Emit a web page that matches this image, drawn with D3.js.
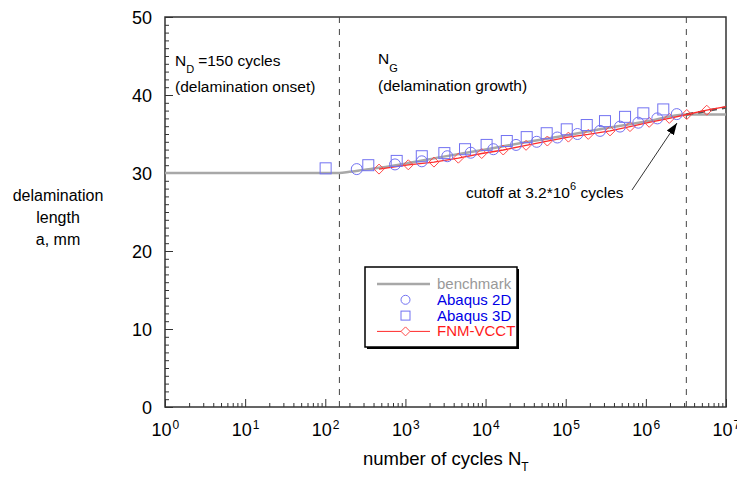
<!DOCTYPE html>
<html>
<head>
<meta charset="utf-8">
<script src="https://cdn.jsdelivr.net/npm/d3@7"></script>
<style>
  html, body { margin: 0; padding: 0; background: #fff; }
  svg { display: block; font-family: "Liberation Sans", Arial, Helvetica, sans-serif; }
</style>
</head>
<body>
<svg id="chart" width="737" height="477"></svg>
<script>
// Benchmark solution: flat until onset, growth until cutoff, then held constant
const benchN = [1, 150, 200, 300, 500, 1000, 3000, 1e4, 3e4, 1e5, 3e5, 1e6, 3.2e6, 1e7];
const benchA = [30, 30, 30.15, 30.4, 30.7, 31.2, 32.1, 33.0, 33.9, 34.8, 35.7, 36.6, 37.5, 37.5];
// Benchmark growth law continued past the cutoff (dashed)
const extN = [3.2e6, 1e7];
const extA = [37.5, 38.4];

// Abaqus 2D results
const abq2dN = [247, 741, 1600, 3330, 6530, 1.25e4, 2.4e4, 4.35e4, 7.86e4, 1.4e5, 2.68e5, 4.76e5, 8.05e5, 1.39e6, 2.43e6];
const abq2dA = [30.5, 31.1, 31.5, 32.15, 32.6, 33.05, 33.6, 34.0, 34.55, 35.0, 35.4, 35.95, 36.45, 37.0, 37.55];

// Abaqus 3D results
const abq3dN = [101, 344, 778, 1600, 3060, 5540, 1.03e4, 1.84e4, 3.26e4, 5.79e4, 1.03e5, 1.83e5, 3.09e5, 5.5e5, 9.3e5, 1.65e6];
const abq3dA = [30.6, 31.0, 31.55, 32.15, 32.55, 33.05, 33.6, 34.1, 34.6, 35.1, 35.6, 36.15, 36.65, 37.2, 37.65, 38.15];

// FNM-VCCT results
const fnmN = [468, 1086, 2270, 4570, 8950, 1.66e4, 3.2e4, 5.9e4, 1.08e5, 1.91e5, 3.57e5, 6.34e5, 1.1e6, 1.96e6, 3.24e6, 5.75e6, 1e7];
const fnmA = [30.5, 31.05, 31.4, 31.9, 32.5, 32.95, 33.55, 34.1, 34.6, 34.95, 35.4, 35.95, 36.5, 37.0, 37.5, 38.05, 38.5];

// Event markers (onset and cutoff)
const eventN = [150, 3.2e6];

const xDecades = [1, 10, 100, 1e3, 1e4, 1e5, 1e6, 1e7];
const xExponents = ["0", "1", "2", "3", "4", "5", "6", "7"];
const yMajor = [0, 10, 20, 30, 40, 50];

const svg = d3.select("#chart");
const L = 165, R = 726, T = 17, B = 407;
const x = d3.scaleLog().domain([1, 1e7]).range([L, R]);
const y = d3.scaleLinear().domain([0, 50]).range([B, T]);

const frameColor = "#333";

// Minor ticks
const xMinor = [];
for (let d = 0; d < 7; d++) for (let m = 2; m <= 9; m++) xMinor.push(m * Math.pow(10, d));
const yMinor = d3.range(0, 51, 1).filter(v => v % 10 !== 0);

function styleAxis(g) {
  g.select(".domain").remove();
  g.selectAll("line").attr("stroke", frameColor).attr("stroke-width", 1);
}

svg.append("g").attr("transform", `translate(0,${B})`)
  .call(d3.axisBottom(x).tickValues(xMinor).tickSize(-4).tickFormat(""))
  .call(styleAxis);
svg.append("g").attr("transform", `translate(0,${B})`)
  .call(d3.axisBottom(x).tickValues(xDecades).tickSize(-8).tickFormat(""))
  .call(styleAxis);
svg.append("g").attr("transform", `translate(${L},0)`)
  .call(d3.axisLeft(y).tickValues(yMinor).tickSize(-4).tickFormat(""))
  .call(styleAxis);
svg.append("g").attr("transform", `translate(${L},0)`)
  .call(d3.axisLeft(y).tickValues(yMajor).tickSize(-8).tickFormat(""))
  .call(styleAxis);

// Tick labels
svg.append("g").selectAll("text").data(yMajor).join("text")
  .attr("x", 152).attr("y", d => y(d) + 6.5)
  .attr("text-anchor", "end").attr("font-size", 18).attr("fill", "#000")
  .text(d => d);

const xl = svg.append("g").selectAll("text").data(xDecades).join("text")
  .attr("x", d => x(d) - 13.5).attr("y", 436)
  .attr("font-size", 18).attr("fill", "#000");
xl.append("tspan").text("10");
xl.append("tspan").attr("dy", -7).attr("dx", 1).attr("font-size", 12).text((d, i) => xExponents[i]);

// Frame
svg.append("rect").attr("x", L).attr("y", T).attr("width", R - L).attr("height", B - T)
  .attr("fill", "none").attr("stroke", frameColor).attr("stroke-width", 1.5);

// Event lines
svg.append("g").selectAll("line").data(eventN).join("line")
  .attr("x1", d => x(d)).attr("x2", d => x(d)).attr("y1", T).attr("y2", B)
  .attr("stroke", "#444").attr("stroke-width", 1).attr("stroke-dasharray", "6,6");

// Benchmark
svg.append("path").datum(benchN.map((n, i) => [n, benchA[i]]))
  .attr("d", d3.line().x(d => x(d[0])).y(d => y(d[1])).curve(d3.curveMonotoneX))
  .attr("fill", "none").attr("stroke", "#a8a8a8").attr("stroke-width", 2.5);
svg.append("path").datum(extN.map((n, i) => [n, extA[i]]))
  .attr("d", d3.line().x(d => x(d[0])).y(d => y(d[1]))).attr("fill", "none")
  .attr("stroke", "#555").attr("stroke-width", 2.5).attr("stroke-dasharray", "7,5");

// FNM-VCCT line + diamonds
const fnm = fnmN.map((n, i) => [n, fnmA[i]]);
svg.append("path").datum(fnm)
  .attr("d", d3.line().x(d => x(d[0])).y(d => y(d[1]))).attr("fill", "none")
  .attr("stroke", "#ff2a2a").attr("stroke-width", 1.3);
const diamond = (cx, cy, r) => `M${cx},${cy - r}L${cx + r},${cy}L${cx},${cy + r}L${cx - r},${cy}Z`;
svg.append("g").selectAll("path").data(fnm.slice(0, -1)).join("path")
  .attr("d", d => diamond(x(d[0]), y(d[1]), 5))
  .attr("fill", "none").attr("stroke", "#ff4a4a").attr("stroke-width", 1);

// Abaqus 2D circles
svg.append("g").selectAll("circle").data(abq2dN.map((n, i) => [n, abq2dA[i]])).join("circle")
  .attr("cx", d => x(d[0])).attr("cy", d => y(d[1])).attr("r", 5.5)
  .attr("fill", "none").attr("stroke", "#7272f2").attr("stroke-width", 1);

// Abaqus 3D squares
svg.append("g").selectAll("rect").data(abq3dN.map((n, i) => [n, abq3dA[i]])).join("rect")
  .attr("x", d => x(d[0]) - 5.5).attr("y", d => y(d[1]) - 5.5)
  .attr("width", 11).attr("height", 11)
  .attr("fill", "none").attr("stroke", "#7272f2").attr("stroke-width", 1);

// Annotations
const ann = svg.append("g").attr("fill", "#000").attr("font-size", 15.5);
const nd = ann.append("text").attr("x", 175).attr("y", 66);
nd.append("tspan").text("N");
nd.append("tspan").attr("dy", 7).attr("font-size", 11).text("D");
nd.append("tspan").attr("dy", -7).attr("dx", 4).text("=150 cycles");
ann.append("text").attr("x", 175).attr("y", 92).text("(delamination onset)");
const ng = ann.append("text").attr("x", 378).attr("y", 64);
ng.append("tspan").text("N");
ng.append("tspan").attr("dy", 8).attr("font-size", 11).text("G");
ann.append("text").attr("x", 378).attr("y", 91).text("(delamination growth)");

const co = ann.append("text").attr("x", 466).attr("y", 198);
co.append("tspan").text("cutoff at 3.2*10");
co.append("tspan").attr("dy", -8).attr("font-size", 11).text("6");
co.append("tspan").attr("dy", 8).text(" cycles");

svg.append("defs").append("marker").attr("id", "ah")
  .attr("viewBox", "0 0 10 10").attr("refX", 10).attr("refY", 5)
  .attr("markerWidth", 12).attr("markerHeight", 12).attr("markerUnits", "userSpaceOnUse")
  .attr("orient", "auto")
  .append("path").attr("d", "M0,1.5L10,5L0,8.5Z").attr("fill", "#000");
svg.append("line").attr("x1", 632).attr("y1", 190).attr("x2", 677).attr("y2", 123)
  .attr("stroke", "#000").attr("stroke-width", 0.8).attr("marker-end", "url(#ah)");

// Axis titles
const yt = svg.append("text").attr("text-anchor", "middle").attr("font-size", 16).attr("fill", "#000");
["delamination", "length", "a, mm"].forEach((s, i) =>
  yt.append("tspan").attr("x", 58).attr("y", 201 + i * 22).text(s));

const xt = svg.append("text").attr("x", 363).attr("y", 465).attr("font-size", 18.5).attr("fill", "#000");
xt.append("tspan").text("number of cycles N");
xt.append("tspan").attr("dy", 6).attr("font-size", 12).text("T");

// Legend
const lg = svg.append("g");
lg.append("rect").attr("x", 367).attr("y", 269).attr("width", 152).attr("height", 80).attr("fill", "#000");
lg.append("rect").attr("x", 365).attr("y", 267).attr("width", 152).attr("height", 80)
  .attr("fill", "#fff").attr("stroke", "#000").attr("stroke-width", 1.5);
const items = [
  { label: "benchmark", color: "#999", type: "line" },
  { label: "Abaqus 2D", color: "#0000e6", type: "circle" },
  { label: "Abaqus 3D", color: "#0000e6", type: "square" },
  { label: "FNM-VCCT", color: "#ff1a1a", type: "diamond" }
];
items.forEach((it, i) => {
  const cy = 284 + i * 15.8;
  if (it.type === "line") {
    lg.append("line").attr("x1", 377).attr("x2", 430).attr("y1", cy).attr("y2", cy)
      .attr("stroke", "#a8a8a8").attr("stroke-width", 2.5);
  } else if (it.type === "circle") {
    lg.append("circle").attr("cx", 405.5).attr("cy", cy).attr("r", 4.5)
      .attr("fill", "none").attr("stroke", "#7272f2");
  } else if (it.type === "square") {
    lg.append("rect").attr("x", 401).attr("y", cy - 4.5).attr("width", 9).attr("height", 9)
      .attr("fill", "none").attr("stroke", "#7272f2");
  } else {
    lg.append("line").attr("x1", 377).attr("x2", 430).attr("y1", cy).attr("y2", cy)
      .attr("stroke", "#ff2a2a").attr("stroke-width", 1);
    lg.append("path").attr("d", diamond(405.5, cy, 4.5)).attr("fill", "#fff")
      .attr("stroke", "#ff4a4a");
  }
  lg.append("text").attr("x", 437).attr("y", cy + 5).attr("font-size", 15)
    .attr("fill", it.color).text(it.label);
});
</script>
</body>
</html>
